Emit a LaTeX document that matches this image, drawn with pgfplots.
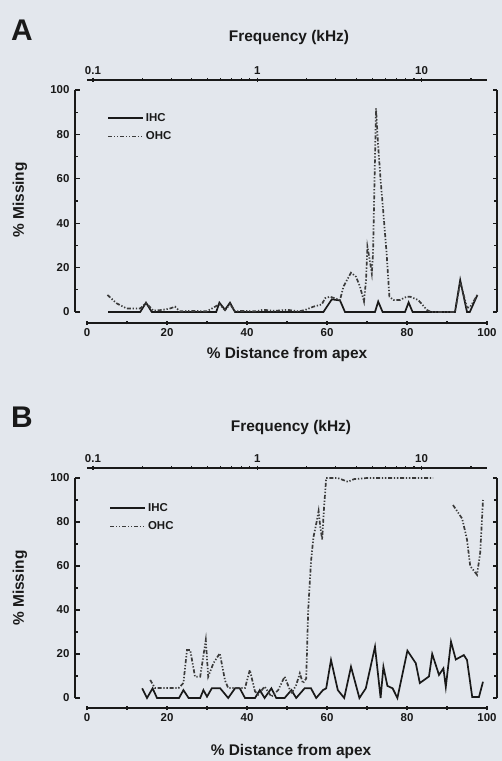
\documentclass[border=0pt]{standalone}
\usepackage{pgfplots}
\pgfplotsset{compat=1.18}
\usepackage{fontspec}
\setmainfont{Liberation Sans}

\definecolor{bg}{RGB}{227,231,237}
\definecolor{ink}{RGB}{25,25,25}

% fonts
\newcommand{\tickfont}{\fontsize{11.5}{12}\selectfont\bfseries}
\newcommand{\labfont}{\fontsize{15.5}{17}\selectfont\bfseries}

\pgfplotsset{
  common/.style={
    scale only axis,
    axis line style={ink, line width=1.5bp},
    every tick/.style={ink, line width=1.2bp},
    tick align=inside,
    major tick length=4.5bp, minor tick length=3bp,
    tick label style={font=\tickfont, text=ink},
    /pgf/number format/assume math mode=true,
  },
  panel/.style={
    common, width=422bp,
    xmin=-3, xmax=102.5, ymin=0, ymax=100,
    axis x line=none, axis y line=box,
    ytick={0,20,...,100}, minor y tick num=1,
    yticklabel pos=left,
    yticklabel style={xshift=-2bp},
    clip=false,
    legend style={draw=none, fill=none, anchor=north west,
      font=\tickfont, text=ink, row sep=5bp, inner sep=0pt},
    legend cell align=left,
    legend image code/.code={\draw[##1] (0bp,0bp) -- (35bp,0bp);},
  },
  bottomx/.style={
    common, width=400bp, height=10bp,
    xmin=0, xmax=100, ymin=0, ymax=1,
    axis x line=bottom, axis y line=none, ytick=\empty,
    x axis line style={-},
    xtick={0,20,...,100}, minor x tick num=1,
  },
  topx/.style={
    common, width=400bp, height=10bp,
    xmin=0.092, xmax=25, ymin=0, ymax=1,
    axis x line=top, axis y line=none, ytick=\empty,
    x axis line style={-},
    xtick={0.1,1,10}, xticklabels={0.1,1,10},
    minor xtick={0.2,0.3,0.4,0.5,0.6,0.7,0.8,0.9,2,3,4,5,6,7,8,9,20},
  },
  ihc/.style={ink, line width=1.7bp},
  ohc/.style={ink!85, line width=1.7bp,
    dash pattern=on 4bp off 1.8bp on 1.3bp off 1.8bp on 1.3bp off 1.8bp},
}

\begin{document}
\begin{tikzpicture}
\useasboundingbox (0,0) rectangle (502bp,761bp);
\fill[bg] (0,0) rectangle (502bp,761bp);

% ---------------- panel A ----------------
\node[font=\fontsize{30}{32}\selectfont\bfseries, text=ink] at (22bp,731bp) {A};
\node[font=\labfont, text=ink] at (289bp,723bp) {Frequency (kHz)};
\node[font=\labfont, text=ink] at (287bp,406bp) {\% Distance from apex};
\node[font=\labfont, text=ink, rotate=90] at (20bp,561bp) {\% Missing};

\begin{axis}[panel, height=222bp, at={(75bp,449bp)}, anchor=south west,
  legend style={at={(0.076,0.905)}}]
\addplot[ihc] coordinates {
  (5.3,0) (13.3,0) (14.75,4.2) (16.2,0) (32.3,0) (33.1,4.2) (34.5,1)
  (35.75,4.2) (37,0) (59.1,0) (61.2,5.7) (63.25,5.2) (64.5,0) (72,0)
  (72.8,4.7) (73.9,0) (79.5,0) (80.4,4.3) (81.4,0) (92,0) (93.3,14.4)
  (95,0) (95.7,0) (97.6,7.7)
};
\addlegendentry{IHC}
\addplot[ohc] coordinates {
  (5.1,7.7) (7.4,3.9) (9.9,1.6) (13.3,1.6) (14.75,4) (16.6,0.6) (18.7,0.9)
  (20.8,1.6) (22,2.4) (23.2,0.3) (26,0.5) (30,0.3) (33.1,3.5) (34.5,0.8)
  (35.75,3.5) (37,0.3) (39,0.5) (42.3,0.3) (44,1) (47,0.5) (50,1) (53,0.3)
  (54.5,0.9) (56.6,2.4) (58.7,3.4) (59.5,6.2) (60.75,6.9) (63.25,5.4)
  (64.1,11.4) (66,17.7) (67.25,15.9) (68.25,11.4) (68.7,8.4) (69.25,4.7)
  (69.75,14.4) (70.1,29.4) (70.6,24.3) (71.2,17.4) (71.5,26) (72.25,91.7)
  (72.8,74.5) (73.4,59.5) (74.1,44.5) (74.9,26.4) (75.6,6.9) (76.6,5.4)
  (78.25,5.4) (79.9,6.9) (80.75,6.9) (82.8,5.4) (85,0.9) (86,0) (92,0)
  (93.3,13.5) (95,2) (95.7,2) (97.6,7.7)
};
\addlegendentry{OHC}
\end{axis}
\begin{axis}[bottomx, at={(87bp,438bp)}, anchor=south west]
\end{axis}
\begin{semilogxaxis}[topx, at={(87bp,681bp)}, anchor=north west]
\end{semilogxaxis}

% ---------------- panel B ----------------
\node[font=\fontsize{30}{32}\selectfont\bfseries, text=ink] at (22bp,344bp) {B};
\node[font=\labfont, text=ink] at (291bp,333bp) {Frequency (kHz)};
\node[font=\labfont, text=ink] at (291bp,9bp) {\% Distance from apex};
\node[font=\labfont, text=ink, rotate=90] at (20bp,173bp) {\% Missing};

\begin{axis}[panel, height=220bp, at={(75bp,63bp)}, anchor=south west,
  legend style={at={(0.081,0.895)}}]
\addplot[ihc] coordinates {
  (13.8,4.4) (15,0) (16.4,4.4) (17.5,0) (23,0) (24.1,3.6) (25.4,0) (28.3,0)
  (29.1,3.6) (30,0.6) (31.2,4.4) (33.3,4.4) (35.3,0) (37,4.4) (38.2,4.4)
  (39.5,0) (42,0) (43.2,3.6) (44.4,0) (46.1,4.4) (47.3,0) (49.4,0)
  (51.1,3.6) (52.3,0) (54.4,4.4) (56,4.4) (57.3,0) (59,3.6) (59.8,4.4)
  (61,17.3) (62.7,3.6) (64.3,0) (66,14.2) (68.1,0) (69.7,4.4) (72,23.3)
  (73.4,0) (74.1,14.2) (75.1,5.5) (76.4,4.4) (77.6,0) (80.1,21.5)
  (82.2,15.8) (83.2,6.8) (85.5,9.8) (86.3,20) (88,10.5) (89.1,13.5)
  (89.7,5) (91,25.6) (92.2,17.5) (94.2,19.5) (95,17.3) (96.3,0.5)
  (98,0.5) (99,7.4)
};
\addlegendentry{IHC}
\addplot[ohc] coordinates {
  (15.8,8.2) (17,4.5) (22.9,4.5) (24.1,6.8) (25,21.8) (25.8,21.8) (27,9.7)
  (28.3,9.7) (29.7,26.4) (30.3,9.7) (31.6,15.8) (33.2,20.3) (34.5,8)
  (35.3,4.5) (39.5,4.5) (40.7,12.7) (42,3) (42.8,1.5) (44.4,5.2)
  (46.1,0.6) (47.8,3.6) (49.4,9.7) (51.1,2) (52.3,5.9) (53.2,11.2)
  (54,6.7) (54.8,8.9) (55.3,40) (56,62) (56.6,73) (57.4,80) (57.9,85)
  (58.3,78) (58.8,72) (59.2,85) (59.8,100) (62.7,100) (65.2,98.3)
  (66.8,99.5) (70,100) (86.5,100)
};
\addlegendentry{OHC}
\addplot[ohc, forget plot] coordinates {
  (91.5,87.7) (93.8,81.5) (95,72) (95.8,60) (97.5,56) (98.3,66) (99,90)
};
\end{axis}
\begin{axis}[bottomx, at={(87bp,53bp)}, anchor=south west]
\end{axis}
\begin{semilogxaxis}[topx, at={(87bp,293bp)}, anchor=north west]
\end{semilogxaxis}
\end{tikzpicture}
\end{document}
